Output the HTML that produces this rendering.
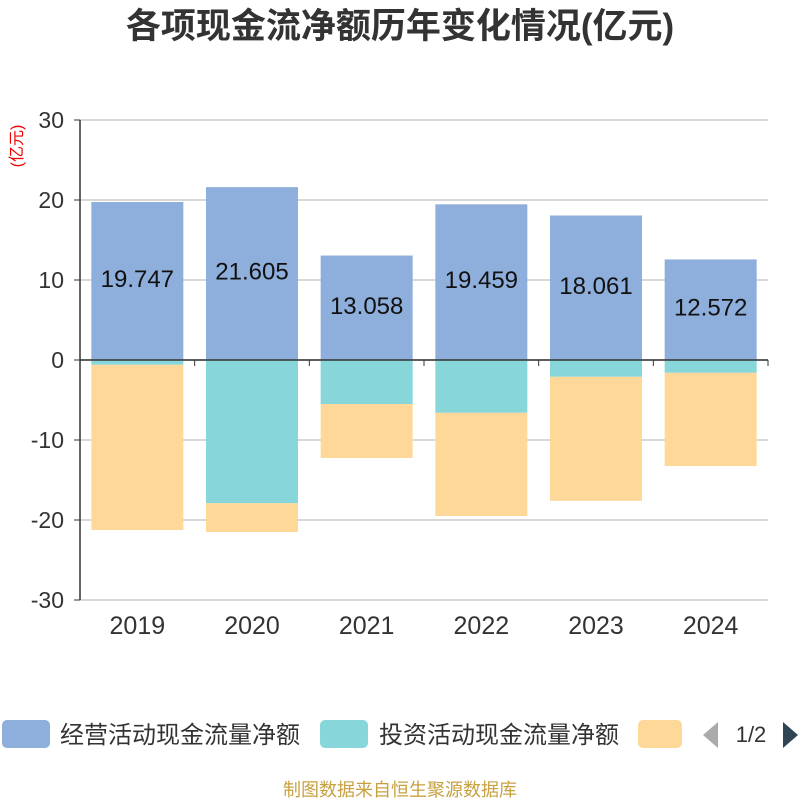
<!DOCTYPE html>
<html><head><meta charset="utf-8"><style>
body{margin:0;background:#fff;width:800px;height:800px;overflow:hidden;font-family:"Liberation Sans","Noto Sans CJK SC",sans-serif}
</style></head><body>
<svg width="800" height="800" id="chart">
<text x="400" y="38" text-anchor="middle" font-size="35" font-weight="bold" fill="#333">各项现金流净额历年变化情况(亿元)</text>
<text x="22" y="146" transform="rotate(-90 22 146)" text-anchor="middle" font-size="16" fill="#e00">(亿元)</text>
<g id="grid"></g><g id="bars"></g><g id="axes"></g>
<g>
<rect x="2" y="720" width="48" height="28" rx="5" fill="#8eaedb"/>
<text x="60" y="743" font-size="24" fill="#333">经营活动现金流量净额</text>
<rect x="320" y="720" width="48" height="28" rx="5" fill="#87d6d9"/>
<text x="379" y="743" font-size="24" fill="#333">投资活动现金流量净额</text>
<rect x="638" y="720" width="44" height="28" rx="5" fill="#fed899"/>
<polygon points="718,722 718,748 703,735" fill="#aaa"/>
<text x="751" y="742" text-anchor="middle" font-size="22" fill="#333">1/2</text>
<polygon points="783,722 783,748 798,735" fill="#2f4554"/>
</g>
<text x="400" y="796" text-anchor="middle" font-size="18" fill="#c8a040">制图数据来自恒生聚源数据库</text>
</svg>
<script>
const categories=["2019","2020","2021","2022","2023","2024"];
const operating=[19.747,21.605,13.058,19.459,18.061,12.572];
const investing=[-0.6,-17.9,-5.5,-6.6,-2.1,-1.6];
const financing=[-20.65,-3.6,-6.75,-12.9,-15.5,-11.65];
const yTicks=[30,20,10,0,-10,-20,-30];
const NS="http://www.w3.org/2000/svg";
const x0=80,x1=768,yTop=120,yBot=600,yMax=30,yMin=-30;
const y=v=>yTop+(yMax-v)/(yMax-yMin)*(yBot-yTop);
const bw=(x1-x0)/categories.length;
const xc=i=>x0+bw*(i+0.5);
function mk(tag,attrs,parent){const e=document.createElementNS(NS,tag);for(const k in attrs)e.setAttribute(k,attrs[k]);document.getElementById(parent).appendChild(e);return e;}
yTicks.forEach(t=>{
 const l=mk("line",{x1:x0,x2:x1,y1:y(t),y2:y(t),stroke:"#ccc","stroke-width":1.5},"grid");
 
 
 const tk=mk("line",{x1:x0-6,x2:x0,y1:y(t),y2:y(t),stroke:"#333"},"axes");
 
 
 const tx=mk("text",{x:x0-16,y:y(t)+8,"text-anchor":"end","font-size":23,fill:"#333"},"axes");
 tx.textContent=t;
 
 
});
const barW=92;
categories.forEach((c,i)=>{
 const left=xc(i)-barW/2;
 const r1=mk("rect",{x:left,y:y(operating[i]),width:barW,height:y(0)-y(operating[i]),fill:"#8eaedb"},"bars");
 
 
 const r2=mk("rect",{x:left,y:y(0),width:barW,height:y(investing[i])-y(0),fill:"#87d6d9"},"bars");
 
 
 const s=investing[i]+financing[i];
 const r3=mk("rect",{x:left,y:y(investing[i]),width:barW,height:y(s)-y(investing[i]),fill:"#fed899"},"bars");
 
 
 const lb=mk("text",{x:xc(i),y:(y(operating[i])+y(0))/2+6,"text-anchor":"middle","font-size":24,fill:"#111"},"bars");
 lb.textContent=operating[i].toFixed(3);
 
 
 const xl=mk("text",{x:xc(i),y:634,"text-anchor":"middle","font-size":25,fill:"#333"},"axes");
 xl.textContent=c;
 
 
});
for(let i=0;i<=categories.length;i++){
 const t=mk("line",{x1:x0+bw*i,x2:x0+bw*i,y1:y(0),y2:y(0)+6,stroke:"#333"},"axes");
 
 
}
const ya=mk("line",{x1:x0,x2:x0,y1:yTop,y2:yBot,stroke:"#333","stroke-width":1.5},"axes");


const xa=mk("line",{x1:x0,x2:x1,y1:y(0),y2:y(0),stroke:"#333","stroke-width":1.5},"axes");


</script>
</body></html>
